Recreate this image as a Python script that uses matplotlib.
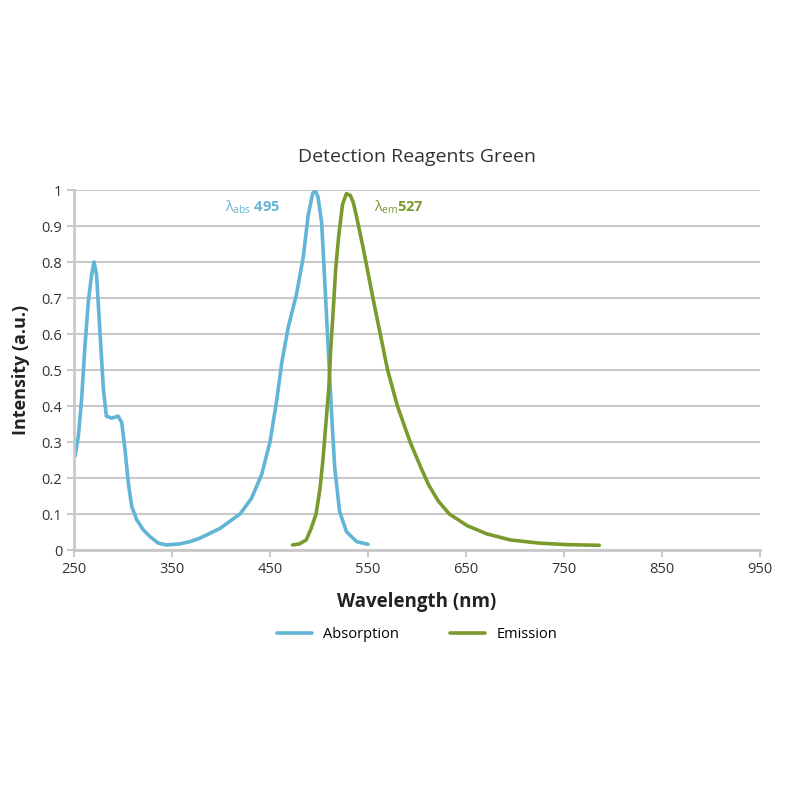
import numpy as np
import matplotlib
matplotlib.use("Agg")
import matplotlib.pyplot as plt

plt.rcParams['font.family'] = ['Open Sans', 'DejaVu Sans']
plt.rcParams['mathtext.fontset'] = 'custom'
plt.rcParams['mathtext.rm'] = 'Open Sans'
plt.rcParams['mathtext.it'] = 'Open Sans'

# absorption spectrum
abs_wl = [251, 254.4, 257.8, 261, 264.6, 268, 270.4, 273, 276.5, 280, 283, 288.5, 295, 298.7,
          302, 305.4, 308.9, 314, 320.7, 327.6, 336, 344.6, 358, 368, 378.6, 399, 419.4, 431,
          441.5, 450, 456.8, 462, 468.7, 477, 484, 489, 493.5, 496, 499, 502.7, 506, 509.5,
          513, 516, 521, 528, 538.5, 550]
abs_int = [0.26, 0.316, 0.42, 0.56, 0.69, 0.765, 0.80, 0.765, 0.605, 0.447, 0.372, 0.366, 0.372, 0.354,
           0.28, 0.187, 0.121, 0.084, 0.056, 0.037, 0.019, 0.014, 0.017, 0.023, 0.033, 0.06, 0.10, 0.143,
           0.21, 0.30, 0.415, 0.52, 0.62, 0.71, 0.815, 0.93, 0.99, 1.0, 0.98, 0.91, 0.74, 0.555,
           0.37, 0.23, 0.107, 0.051, 0.023, 0.016]

# emission spectrum
em_wl = [473, 480, 487, 492, 497, 501, 504, 507, 510, 512, 514.6, 517, 520, 524, 528, 532,
         535, 538, 545, 555, 562.5, 570, 580, 593, 603, 612, 622, 633, 651, 671, 695, 725, 753, 786]
em_int = [0.014, 0.017, 0.028, 0.06, 0.10, 0.17, 0.25, 0.35, 0.45, 0.56, 0.67, 0.78, 0.87, 0.96, 0.99, 0.985,
          0.965, 0.93, 0.84, 0.70, 0.60, 0.50, 0.40, 0.30, 0.235, 0.18, 0.135, 0.10, 0.068, 0.045,
          0.028, 0.019, 0.015, 0.013]

x_ticks = [250, 350, 450, 550, 650, 750, 850, 950]
y_ticks = [0, 0.1, 0.2, 0.3, 0.4, 0.5, 0.6, 0.7, 0.8, 0.9, 1]
y_labels = ['0', '0.1', '0.2', '0.3', '0.4', '0.5', '0.6', '0.7', '0.8', '0.9', '1']

blue = '#62b5d6'
green = '#7b9a2e'
grid_c = '#c9c9c9'

fig = plt.figure(figsize=(8, 8), dpi=100)
ax = fig.add_axes([0.0925, 0.3125, 0.8575, 0.45])

ax.plot(abs_wl, abs_int, color=blue, lw=2.6, label='Absorption',
        solid_capstyle='round', solid_joinstyle='round')
ax.plot(em_wl, em_int, color=green, lw=2.6, label='Emission',
        solid_capstyle='round', solid_joinstyle='round')

ax.set_xlim(250, 950)
ax.set_ylim(0, 1)
ax.set_xticks(x_ticks)
ax.set_yticks(y_ticks)
ax.set_yticklabels(y_labels)
ax.grid(axis='y', color=grid_c, lw=1.5)
ax.set_axisbelow(True)
ax.tick_params(axis='both', colors=grid_c, labelcolor='#333333', labelsize=10.5,
               length=5, width=1.5, direction='out')
for s in ['top', 'right']:
    ax.spines[s].set_visible(False)
for s in ['left', 'bottom']:
    ax.spines[s].set_color(grid_c)
    ax.spines[s].set_linewidth(2)

ax.set_title('Detection Reagents Green', fontsize=14, color='#333333', pad=20)
ax.set_xlabel('Wavelength (nm)', fontsize=13.5, fontweight='bold', color='#222222', labelpad=11)
ax.set_ylabel('Intensity (a.u.)', fontsize=13, fontweight='bold', color='#222222', labelpad=8)

ax.text(404, 0.952, r'$\lambda_{\rm abs}$ 495', color=blue, fontsize=10.5,
        fontweight='bold', va='center', ha='left')
ax.text(556, 0.952, r'$\lambda_{\rm em}$527', color=green, fontsize=10.5,
        fontweight='bold', va='center', ha='left')

ax.legend(loc='upper center', bbox_to_anchor=(0.5, -0.178), ncol=2, frameon=False,
          fontsize=10.5, handlelength=2.4, columnspacing=3.5)

fig.savefig('out.png', dpi=100)
